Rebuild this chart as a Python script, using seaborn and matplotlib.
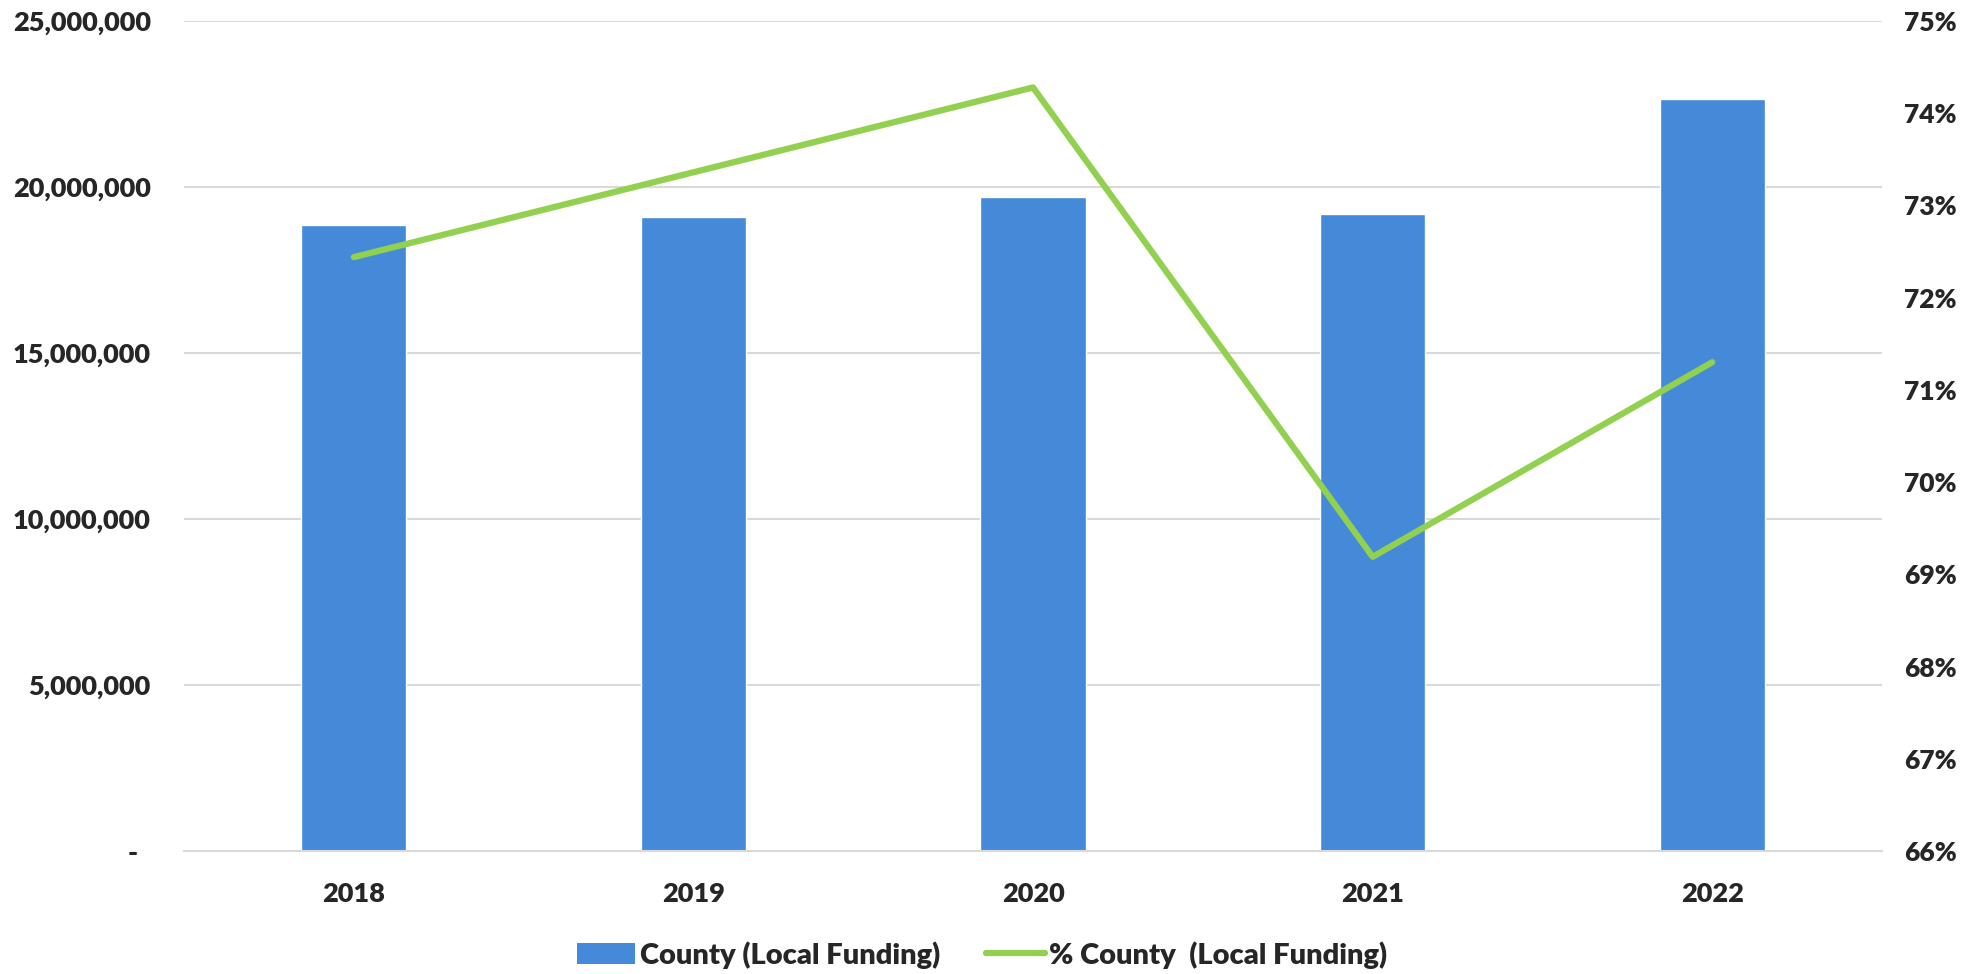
import numpy as np
import matplotlib
matplotlib.use("Agg")
import matplotlib.pyplot as plt
import matplotlib.ticker as mticker
from matplotlib.patches import Patch
from matplotlib.lines import Line2D
import seaborn as sns

# --- dane ---
years = ["2018", "2019", "2020", "2021", "2022"]
county_funding = [18860000, 19100000, 19710000, 19180000, 22660000]
county_pct = [72.44, 73.36, 74.28, 69.19, 71.30]

BAR_COLOR = "#448AD9"
LINE_COLOR = "#92D050"
GRID_COLOR = "#D9D9D9"

sns.set_theme(style="white")
plt.rcParams["font.family"] = ["Lato", "DejaVu Sans"]
plt.rcParams["font.weight"] = "bold"

fig = plt.figure(figsize=(19.66, 9.74), dpi=100)
fig.patch.set_facecolor("white")
ax = fig.add_axes([0.0936, 0.1263, 0.8637, 0.8521])

sns.barplot(x=years, y=county_funding, color=BAR_COLOR, width=0.31,
            saturation=1, ax=ax, zorder=2)
ax.set_xlim(-0.5, len(years) - 0.5)
ax.set_ylim(0, 25000000)
ax.yaxis.set_major_locator(mticker.MultipleLocator(5000000))
ax.yaxis.set_major_formatter(
    mticker.FuncFormatter(lambda v, p: "-  " if v == 0 else f"{v:,.0f}"))
ax.grid(axis="y", color=GRID_COLOR, linewidth=1.5, zorder=0)
ax.set_axisbelow(True)
for s in ["top", "left", "right"]:
    ax.spines[s].set_visible(False)
ax.spines["bottom"].set_color(GRID_COLOR)
ax.spines["bottom"].set_linewidth(1.5)
ax.tick_params(axis="y", length=0, pad=24, labelsize=19.5)
ax.tick_params(axis="x", length=0, pad=22, labelsize=19.5)
for lab in ax.get_xticklabels() + ax.get_yticklabels():
    lab.set_fontweight("heavy")

# oś prawa - procent
ax2 = ax.twinx()
sns.lineplot(x=np.arange(len(years)), y=county_pct, color=LINE_COLOR,
             linewidth=4.5, ax=ax2, zorder=3)
ax2.set_ylim(66, 75)
ax2.yaxis.set_major_locator(mticker.MultipleLocator(1))
ax2.yaxis.set_major_formatter(mticker.FuncFormatter(lambda v, p: f"{v:.0f}%"))
ax2.tick_params(axis="y", length=0, pad=16, labelsize=19)
for lab in ax2.get_yticklabels():
    lab.set_fontweight("heavy")
for s in ax2.spines.values():
    s.set_visible(False)
ax2.set_xlim(-0.5, len(years) - 0.5)

handles = [
    Patch(facecolor=BAR_COLOR, edgecolor="none"),
    Line2D([0], [0], color=LINE_COLOR, linewidth=4.5),
]
ax.legend(handles, ["County (Local Funding)", "% County  (Local Funding)"],
          loc="center", bbox_to_anchor=(0.47, -0.125), ncol=2, frameon=False,
          prop={"size": 21, "weight": "heavy"}, handlelength=2.0,
          handletextpad=0.15, columnspacing=1.6)

fig.savefig("out.png", dpi=100, facecolor="white")
